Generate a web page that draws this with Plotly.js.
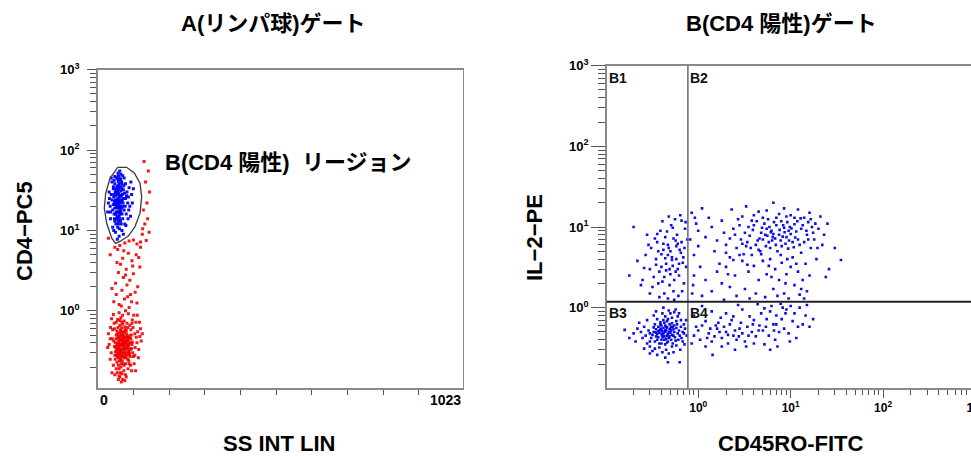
<!DOCTYPE html>
<html><head><meta charset="utf-8">
<script src="https://cdn.plot.ly/plotly-3.0.1.min.js"></script>
<style>html,body{margin:0;padding:0;overflow:hidden;background:#fff}#chart{width:980px;height:457px}</style>
</head><body><div id="chart"></div>
<script>
// ---------- DATA ----------
// Left panel: SS INT LIN (0-1023) vs CD4-PC5 (log)
const redPoints = [
[62,0.35],[70,0.42],[55,0.30],[78,0.38],[66,0.27],[84,0.45],[59,0.48],[73,0.33],[68,0.55],[50,0.40],
[88,0.31],[61,0.24],[75,0.29],[81,0.52],[57,0.37],[64,0.44],[92,0.40],[71,0.22],[53,0.33],[79,0.26],
[67,0.61],[86,0.36],[60,0.41],[74,0.47],[48,0.28],[95,0.34],[63,0.31],[77,0.58],[69,0.37],[56,0.52],
[83,0.28],[72,0.40],[65,0.20],[90,0.49],[58,0.26],[76,0.34],[52,0.45],[87,0.24],[70,0.30],[62,0.66],
[80,0.41],[66,0.38],[98,0.30],[54,0.23],[73,0.50],[85,0.33],[61,0.29],[78,0.22],[68,0.45],[57,0.34],
[93,0.45],[64,0.57],[75,0.39],[50,0.31],[82,0.36],[71,0.27],[59,0.42],[89,0.29],[67,0.33],[76,0.63],
[63,0.38],[84,0.25],[55,0.27],[72,0.35],[96,0.38],[60,0.19],[79,0.47],[69,0.24],[47,0.36],[86,0.42],
[65,0.49],[74,0.21],[58,0.39],[91,0.33],[70,0.52],[53,0.28],[81,0.30],[66,0.43],[77,0.27],[62,0.32],
[100,0.27],[56,0.46],[73,0.37],[88,0.39],[61,0.53],[68,0.29],[83,0.48],[51,0.35],[75,0.44],[64,0.25],
[94,0.50],[59,0.32],[79,0.34],[70,0.68],[45,0.42],[87,0.30],[66,0.22],[72,0.46],[57,0.29],[80,0.57],
[63,0.45],[97,0.41],[54,0.38],[76,0.31],[69,0.40],[85,0.38],[60,0.36],[74,0.26],[49,0.25],[91,0.27],
[67,0.50],[82,0.43],[58,0.21],[71,0.33],[78,0.41],[65,0.31],[52,0.50],[89,0.46],[62,0.27],[75,0.55],
[42,0.58],[105,0.35],[38,0.30],[108,0.47],[44,0.21],[102,0.22],[35,0.45],[110,0.40],[46,0.70],[99,0.62],
[40,0.17],[104,0.28],[48,0.16],[95,0.18],[62,0.15],[78,0.16],[70,0.14],[55,0.17],[85,0.19],[66,0.13],
[73,0.18],[58,0.14],[88,0.22],[52,0.19],[80,0.15],[64,0.17],[92,0.21],[60,0.155],[76,0.135],[68,0.165],
[112,0.55],[115,0.33],[118,0.48],[107,0.72],[120,0.60],[114,0.26],[36,0.62],[32,0.38],[30,0.52],[39,0.80],
[44,0.90],[56,0.78],[65,0.82],[74,0.75],[82,0.70],[90,0.66],[97,0.77],[101,0.88],[60,0.95],[70,0.88],
[86,0.92],[78,1.0],[52,0.72],[47,0.60],[93,0.58],[104,0.52],[57,0.62],[68,0.72],[84,0.62],[62,0.76],
[122,0.42],[117,0.72],[125,0.52],[111,0.88],[35,0.25],[41,0.45],[106,0.18],[28,0.35],[96,0.70],[54,0.56],
[60,1.2],[75,1.4],[88,1.1],[52,1.6],[95,1.3],[68,1.8],[82,2.1],[105,1.7],[45,1.3],[72,2.6],
[58,3.0],[90,2.4],[112,2.0],[64,3.8],[80,3.3],[100,2.9],[50,2.2],[118,3.5],[70,4.5],[86,5.2],
[56,5.8],[96,4.2],[108,5.0],[62,6.5],[76,7.0],[120,6.2],[92,1.6],[66,1.15],[110,1.25],[40,1.9],
[84,1.5],[78,2.8],[54,4.0],[98,3.6],[115,4.6],[73,5.6],
[125,9],[132,12],[140,14],[128,18],[138,22],[145,30],[134,40],[142,55],[130,72],[126,10.5],
[136,7.5],[144,9.5],[120,7.2],[110,6.8],[100,7.6],[48,6.2],[88,7.4],[30,8.0],[35,5.0]
];
const bluePoints = [
[57,20],[50,24],[63,18],[55,28],[60,15],[48,19],[66,23],[53,14],[58,32],[45,26],
[70,20],[52,22],[61,27],[56,17],[64,13],[49,30],[59,21],[68,16],[54,35],[62,24],
[46,16],[58,12],[72,25],[51,27],[65,31],[57,25],[44,21],[67,19],[55,19],[60,38],
[53,29],[69,28],[48,13],[63,22],[56,11],[74,18],[50,33],[61,14],[58,41],[47,23],
[66,27],[52,17],[64,35],[57,15],[71,22],[54,24],[59,29],[42,18],[62,16],[55,44],
[68,33],[49,21],[60,19],[75,29],[51,12],[65,17],[57,36],[46,28],[63,26],[53,20],
[70,14],[58,23],[56,30],[61,10.5],[48,38],[67,40],[54,15],[72,32],[59,17],[44,33],
[64,20],[50,16],[62,45],[57,13],[66,12],[52,31],[69,24],[55,22],[60,34],[47,14],
[40,40],[38,28],[35,20],[36,14],[42,11],[50,9.5],[60,8.5],[55,7.8],[68,10],[76,12],
[80,16],[84,22],[82,30],[78,38],[74,45],[65,50],[57,52],[48,47],[44,35],[86,26],
[90,20],[88,34],[92,15],[79,11.5],[72,9],[30,22],[32,30],[28,17],[38,45],[62,55],
[70,48],[95,28],[97,22],[85,14],[45,10],[53,46],[33,25],[100,33],[77,20],[81,27],
[73,36],[40,24],[36,17],[64,43],[87,18],[58,48],[46,42],[68,38],[93,40],[78,25]
];
// Gate B (CD4 positive region) outline
const gateX = [56,81,102.6,118.6,123.3,118.6,104.5,85.8,62.5,50.4,39.2,25.2,18.5,22.4,34.5];
const gateY = [61,61,52,38.6,26.3,16.4,11.1,8.5,7.3,6.9,8.0,12.3,18.9,29,44.6];

// Right panel: CD45RO-FITC (log) vs IL-2-PE (log)
const rightPoints = [
// B3
[0.42,0.48],[0.38,0.52],[0.46,0.45],[0.50,0.55],[0.35,0.44],[0.44,0.60],[0.40,0.40],[0.55,0.50],[0.48,0.42],[0.33,0.50],
[0.45,0.53],[0.52,0.46],[0.37,0.58],[0.41,0.43],[0.58,0.56],[0.47,0.38],[0.36,0.47],[0.43,0.65],[0.51,0.40],[0.39,0.55],
[0.31,0.42],[0.60,0.48],[0.44,0.50],[0.49,0.62],[0.34,0.38],[0.53,0.58],[0.40,0.47],[0.46,0.68],[0.56,0.43],[0.38,0.36],
[0.42,0.56],[0.62,0.52],[0.30,0.48],[0.48,0.50],[0.45,0.41],[0.35,0.54],[0.52,0.64],[0.40,0.60],[0.57,0.39],[0.44,0.35],
[0.37,0.43],[0.50,0.49],[0.65,0.58],[0.33,0.57],[0.47,0.72],[0.41,0.51],[0.54,0.45],[0.29,0.52],[0.43,0.44],[0.59,0.62],
[0.36,0.40],[0.49,0.54],[0.39,0.66],[0.46,0.37],[0.63,0.45],[0.32,0.46],[0.51,0.52],[0.42,0.70],[0.55,0.60],[0.38,0.49],
[0.68,0.50],[0.27,0.45],[0.45,0.58],[0.53,0.36],[0.40,0.53],[0.34,0.62],[0.58,0.68],[0.47,0.47],[0.61,0.40],[0.30,0.38],
[0.44,0.78],[0.52,0.75],[0.36,0.72],[0.60,0.78],[0.41,0.85],[0.55,0.88],[0.33,0.80],[0.48,0.92],[0.65,0.70],[0.70,0.62],
[0.72,0.55],[0.66,0.42],[0.70,0.48],[0.26,0.58],[0.28,0.36],[0.24,0.50],[0.25,0.42],[0.22,0.55],[0.38,0.32],[0.45,0.30],
[0.52,0.33],[0.34,0.31],[0.41,0.28],[0.58,0.34],[0.30,0.33],[0.48,0.27],[0.36,0.26],[0.44,0.24],[0.32,0.29],[0.40,0.36],
[0.62,0.85],[0.57,0.95],[0.42,1.0],[0.35,0.90],[0.28,0.70],[0.23,0.65],[0.20,0.48],[0.18,0.42],[0.16,0.53],[0.21,0.38],
[0.74,0.70],[0.75,0.45],[0.68,0.38],[0.54,0.28],[0.47,0.21],[0.30,0.27],[0.26,0.31],[0.64,0.30],[0.71,0.35],[0.50,0.85],
[0.39,0.62],[0.43,0.40],[0.49,0.44],[0.37,0.51],[0.54,0.54],[0.46,0.57],[0.35,0.49],[0.51,0.58],[0.41,0.46],[0.44,0.52],
// B1 side (upper left)
[0.45,3.5],[0.52,4.2],[0.38,2.8],[0.60,3.0],[0.48,5.5],[0.35,4.0],[0.55,2.2],[0.42,6.2],[0.65,4.8],[0.50,2.6],
[0.40,3.2],[0.58,5.8],[0.33,2.4],[0.47,4.5],[0.62,2.5],[0.44,7.5],[0.53,3.3],[0.37,5.0],[0.68,3.6],[0.49,1.9],
[0.30,3.0],[0.57,6.8],[0.41,2.1],[0.63,5.2],[0.46,8.8],[0.54,1.6],[0.36,6.5],[0.70,2.0],[0.43,1.5],[0.59,8.0],
[0.32,1.8],[0.51,10.5],[0.39,9.0],[0.66,6.5],[0.27,4.5],[0.56,12.5],[0.48,13.5],[0.74,3.2],[0.72,9.5],[0.25,2.2],
[0.34,7.2],[0.61,1.4],[0.47,1.3],[0.38,1.35],[0.55,1.25],[0.30,1.5],[0.67,1.6],[0.73,11.5],[0.29,6.0],[0.22,3.8],
[0.20,10.0],[0.18,2.5],[0.24,1.9],[0.41,11.8],[0.64,14.0],[0.76,7.0],[0.45,2.9],[0.52,3.9],[0.40,4.6],[0.58,4.0],
[0.35,3.4],[0.50,5.0],[0.62,3.5],[0.43,2.4],[0.54,7.2],[0.47,6.0],[0.37,2.0],[0.69,4.2],[0.31,5.5],[0.26,3.1],
[0.44,4.1],[0.49,3.0],[0.57,2.8],[0.42,5.2],[0.60,6.2],[0.36,8.2],[0.53,9.8],[0.28,8.0],[0.71,5.5],[0.66,12.0],
// B2 (upper right)
[5.0,7.0],[6.5,8.2],[4.2,6.0],[7.8,6.8],[5.5,9.5],[9.0,7.5],[3.6,7.8],[6.0,5.5],[8.5,9.8],[4.8,8.5],
[7.0,10.5],[10.5,6.5],[5.8,6.5],[3.9,9.2],[6.8,7.2],[11.5,8.8],[4.5,5.2],[8.0,5.8],[5.2,11.0],[9.8,10.0],
[6.2,9.0],[3.4,6.5],[7.5,8.0],[12.0,7.0],[4.0,10.5],[5.6,7.8],[8.8,6.2],[6.6,11.5],[10.0,8.2],[4.6,7.2],
[7.2,5.0],[3.2,8.5],[9.5,9.0],[5.4,5.8],[6.3,6.8],[11.0,10.8],[4.3,11.8],[8.2,7.6],[5.9,10.0],[13.0,9.5],
[3.7,5.5],[7.6,9.2],[6.9,6.0],[9.2,11.5],[4.9,9.8],[10.8,5.6],[5.3,8.0],[8.6,8.6],[3.5,10.0],[12.5,6.0],
[6.4,7.5],[7.9,11.8],[4.4,6.8],[9.6,6.8],[5.7,12.5],[11.8,11.8],[3.8,12.0],[6.1,8.6],[8.3,10.5],[4.7,5.0],
[2.0,6.0],[2.5,8.0],[1.5,5.0],[2.8,10.5],[1.2,7.5],[1.8,12.0],[2.2,4.2],[3.0,13.5],[1.0,9.0],[0.9,4.5],
[0.85,15.0],[1.1,17.0],[1.4,10.0],[1.7,3.5],[2.3,16.5],[3.3,18.0],[4.5,15.5],[5.5,16.0],[6.5,20.0],[7.5,14.5],
[8.5,17.0],[10.0,14.0],[12.0,16.5],[14.0,13.0],[16.0,15.0],[17.0,10.0],[15.0,8.0],[18.0,7.0],[20.0,9.5],[22.0,6.0],
[25.0,11.0],[30.0,5.5],[35.0,3.9],[24.0,2.4],[19.0,4.0],[16.5,5.5],[14.5,3.5],[13.0,4.8],[15.5,11.5],[11.0,13.0],
[9.0,13.5],[7.0,13.0],[5.0,13.0],[4.0,14.0],[2.7,12.5],[1.3,13.0],[0.95,11.0],[0.82,7.0],[0.9,2.5],[1.05,3.2],
[2.0,3.2],[2.5,2.5],[3.0,3.8],[1.8,2.0],[3.5,2.8],[2.2,1.8],[4.0,3.3],[2.8,4.5],[1.6,2.8],[3.2,1.7],
[4.5,2.2],[5.0,3.8],[2.4,3.9],[3.8,4.5],[1.4,1.6],[5.5,2.6],[6.0,4.0],[6.8,3.0],[7.5,2.2],[8.0,3.6],
[9.0,2.6],[10.0,3.2],[11.0,1.9],[12.0,2.8],[8.5,1.5],[6.5,1.7],[4.2,1.5],[3.6,1.3],[5.3,1.35],[7.2,1.4],
[9.5,1.3],[12.5,1.45],[14.0,1.3],[2.6,1.4],[1.9,1.25],[1.2,2.2],[10.5,4.2],[13.5,2.2],[7.8,4.5],[11.5,3.5],
[6.2,2.4],[4.8,4.6],[2.1,2.6],[3.4,3.4],[9.2,4.0],[0.88,1.9],[1.1,1.4],[15.0,1.6],[5.8,3.3],[8.8,2.0],
[2.6,5.5],[3.1,4.6],[2.2,7.2],[3.3,5.8],[2.9,7.0],[1.9,8.5],[2.4,9.5],[3.0,6.2],[2.0,4.8],[1.6,6.8],
[14.0,6.5],[13.5,10.5],[15.5,7.0],[12.8,12.8],[11.2,7.4],[10.2,9.6],[9.4,5.4],[14.8,9.0],[16.5,12.5],[18.5,11.0],
[21.0,13.5],[19.5,5.5],[17.5,8.5],[23.0,8.0],[26.0,3.0],[13.0,1.7],[16.0,2.5],[0.86,1.5],[1.0,5.8],[0.92,13.0],
// B4 (lower right)
[1.0,0.52],[1.3,0.48],[1.6,0.55],[2.0,0.50],[2.4,0.45],[1.1,0.60],[1.8,0.42],[2.8,0.55],[1.4,0.38],[0.9,0.45],
[2.2,0.62],[3.0,0.48],[1.2,0.68],[1.7,0.50],[2.6,0.40],[3.4,0.58],[0.95,0.58],[1.5,0.44],[2.1,0.36],[2.9,0.65],
[1.9,0.58],[3.8,0.50],[1.25,0.42],[2.5,0.52],[4.2,0.44],[1.05,0.40],[1.65,0.65],[3.2,0.38],[2.3,0.70],[4.6,0.60],
[5.0,0.52],[5.8,0.45],[6.5,0.62],[7.5,0.50],[8.5,0.55],[5.5,0.72],[6.8,0.40],[9.5,0.48],[4.0,0.70],[3.6,0.78],
[4.8,0.85],[6.0,0.90],[7.0,0.80],[8.0,0.72],[9.0,0.95],[10.5,0.68],[12.0,0.58],[11.0,0.85],[13.5,0.62],[16.0,0.58],
[14.5,0.80],[17.5,0.72],[6.2,1.05],[8.2,1.00],[3.0,0.95],[2.0,0.85],[1.4,0.90],[0.9,0.80],[1.1,1.05],[4.4,1.10],
[2.7,1.08],[5.2,0.98],[10.0,1.05],[12.5,1.0],[7.8,1.12],[15.0,1.08],[3.3,0.33],[1.8,0.33],[2.5,0.30],[4.0,0.36],
[5.2,0.35],[6.0,0.30],[1.2,0.33],[7.2,0.33],[0.85,0.36],[9.8,0.38],[11.5,0.42],[8.8,0.85],[3.9,0.62],[2.1,0.46],
[1.55,0.60],[2.75,0.44],[1.35,0.55],[3.5,0.45],[4.5,0.52],[5.4,0.58],[6.6,0.52],[7.0,0.62],[1.75,0.75],[2.4,0.78],
[1.43,0.26],[0.63,0.21]
];
// Quadrant markers
const quadX = 0.773, quadY = 1.186;
const quadLabels = ['B1','B2','B3','B4'];
// Tick labels
const linTickVals = [100,200,300,400,500,600,700,800,900];
const linEndLabels = ['0','1023'];
const decadeVals = [1,10,100,1000];
const decadeText = ['<b>10<sup>0</sup></b>','<b>10<sup>1</sup></b>','<b>10<sup>2</sup></b>','<b>10<sup>3</sup></b>'];
const titles = ['A(リンパ球)ゲート','B(CD4 陽性)ゲート'];
const axisTitles = ['SS INT LIN','CD4\u2212PC5','CD45RO-FITC','IL\u22122\u2212PE'];
const regionLabel = 'B(CD4 陽性)\u00a0\u00a0リージョン';

// ---------- LAYOUT ----------
const W = 980, H = 457;
const fx = p => p / W, fy = p => 1 - p / H;
function minorVals(d0, d1){ const v=[]; for(let d=d0; d<=d1; d++){ for(let m=2;m<=9;m++) v.push(m*Math.pow(10,d)); } return v; }
const FONT = 'Liberation Sans, Arial, "Noto Sans CJK JP", sans-serif';
const AX = '#8a8a8a', TK = '#555';

const traces = [
  {type:'scatter', mode:'markers', x: redPoints.map(p=>p[0]), y: redPoints.map(p=>p[1]), xaxis:'x', yaxis:'y',
   marker:{symbol:'square', size:3, color:'rgba(240,0,0,0.9)'}, hoverinfo:'skip'},
  {type:'scatter', mode:'markers', x: bluePoints.map(p=>p[0]), y: bluePoints.map(p=>p[1]), xaxis:'x', yaxis:'y',
   marker:{symbol:'square', size:3, color:'rgba(0,0,245,0.95)'}, hoverinfo:'skip'},
  {type:'scatter', mode:'lines', x: gateX.concat([gateX[0]]), y: gateY.concat([gateY[0]]), xaxis:'x', yaxis:'y',
   line:{color:'#3a3a3a', width:1.3}, hoverinfo:'skip'},
  {type:'scatter', mode:'markers', x: rightPoints.map(p=>p[0]), y: rightPoints.map(p=>p[1]), xaxis:'x2', yaxis:'y2',
   marker:{symbol:'square', size:2.6, color:'rgba(0,0,235,0.95)'}, hoverinfo:'skip'}
];

const layout = {
  width: W, height: H, margin:{l:0,r:0,t:0,b:0}, showlegend:false,
  paper_bgcolor:'#fff', plot_bgcolor:'#fff', font:{family:FONT},
  xaxis:{domain:[fx(97.7), fx(462.7)], range:[0,1023], anchor:'y', showgrid:false, zeroline:false,
    showline:true, linecolor:AX, linewidth:1.5, mirror:true,
    tickmode:'array', tickvals:linTickVals, showticklabels:false, ticks:'outside', ticklen:5, tickcolor:TK, tickwidth:1},
  yaxis:{domain:[fy(388), fy(69.7)], type:'log', range:[-0.96,3], anchor:'x', showgrid:false, zeroline:false,
    showline:true, linecolor:AX, linewidth:1.5, mirror:true,
    tickmode:'array', tickvals:decadeVals, ticktext:decadeText, ticks:'outside', ticklen:9, tickcolor:TK, tickwidth:1,
    tickfont:{family:FONT, size:13, color:'#000'}, ticklabelstandoff:5,
    minor:{tickmode:'array', tickvals:minorVals(-1,2), ticks:'outside', ticklen:6, tickcolor:TK, tickwidth:1}},
  xaxis2:{domain:[fx(606.7), fx(976)], type:'log', range:[-0.99,3.005], anchor:'y2', showgrid:false, zeroline:false,
    showline:true, linecolor:AX, linewidth:1.5, mirror:true, ticklabeloverflow:'allow',
    tickmode:'array', tickvals:decadeVals, ticktext:decadeText, ticks:'outside', ticklen:8, tickcolor:TK, tickwidth:1,
    tickfont:{family:FONT, size:12, color:'#000'},
    minor:{tickmode:'array', tickvals:minorVals(-1,2), ticks:'outside', ticklen:5, tickcolor:TK, tickwidth:1}},
  yaxis2:{domain:[fy(388.3), fy(65.7)], type:'log', range:[-1,3], anchor:'x2', showgrid:false, zeroline:false,
    showline:true, linecolor:AX, linewidth:1.5, mirror:true,
    tickmode:'array', tickvals:decadeVals, ticktext:decadeText, ticks:'outside', ticklen:14, tickcolor:TK, tickwidth:1,
    tickfont:{family:FONT, size:13, color:'#000'}, ticklabelstandoff:0,
    minor:{tickmode:'array', tickvals:minorVals(-1,2), ticks:'outside', ticklen:7, tickcolor:TK, tickwidth:1}},
  shapes:[
    {type:'line', xref:'x2', yref:'y2 domain', x0:quadX, x1:quadX, y0:0, y1:1, line:{color:'#6a6a6a', width:1.5}},
    {type:'line', xref:'x2 domain', yref:'y2', x0:0, x1:1, y0:quadY, y1:quadY, line:{color:'#222', width:2}}
  ],
  annotations:[]
};
const A = layout.annotations;
const big = (t, x, y, size, angle) => ({text:'<b>'+t+'</b>', xref:'paper', yref:'paper', x:fx(x), y:fy(y),
  xanchor:'center', yanchor:'middle', showarrow:false, textangle: angle||0, font:{family:FONT, size:size, color:'#000'}});
A.push(big(titles[0], 273, 23, 22));
A.push(big(titles[1], 781, 23, 22));
A.push(big(axisTitles[0], 279, 443, 22));
A.push(big(axisTitles[1], 24, 231, 22, -90));
A.push(big(axisTitles[2], 791, 443, 22));
A.push(big(axisTitles[3], 534, 238, 22, -90));
A.push({text:'<b>'+regionLabel+'</b>', xref:'paper', yref:'paper', x:fx(163), y:fy(163), xanchor:'left', yanchor:'middle',
  showarrow:false, font:{family:FONT, size:22, color:'#000'}});
// x end labels of left panel
A.push({text:'<b>'+linEndLabels[0]+'</b>', xref:'x', yref:'paper', x:0, y:fy(400), xanchor:'left', yanchor:'middle',
  showarrow:false, font:{family:FONT, size:14, color:'#000'}});
A.push({text:'<b>'+linEndLabels[1]+'</b>', xref:'x', yref:'paper', x:1023, y:fy(400), xanchor:'right', yanchor:'middle',
  showarrow:false, font:{family:FONT, size:14, color:'#000'}});
// quadrant labels
const qf = {family:FONT, size:14, color:'#111'};
const lqx = Math.log10(quadX), lqy = Math.log10(quadY);
A.push({text:'<b>'+quadLabels[0]+'</b>', xref:'x2 domain', yref:'y2 domain', x:0, y:1, xanchor:'left', yanchor:'top', yshift:-2, showarrow:false, font:qf});
A.push({text:'<b>'+quadLabels[1]+'</b>', xref:'x2', yref:'y2 domain', x:lqx, y:1, xanchor:'left', yanchor:'top', yshift:-2, showarrow:false, font:qf});
A.push({text:'<b>'+quadLabels[2]+'</b>', xref:'x2 domain', yref:'y2', x:0, y:lqy, xanchor:'left', yanchor:'top', yshift:-1, showarrow:false, font:qf});
A.push({text:'<b>'+quadLabels[3]+'</b>', xref:'x2', yref:'y2', x:lqx, y:lqy, xanchor:'left', yanchor:'top', yshift:-1, showarrow:false, font:qf});

Plotly.newPlot('chart', traces, layout, {staticPlot:true, displayModeBar:false});
</script></body></html>
